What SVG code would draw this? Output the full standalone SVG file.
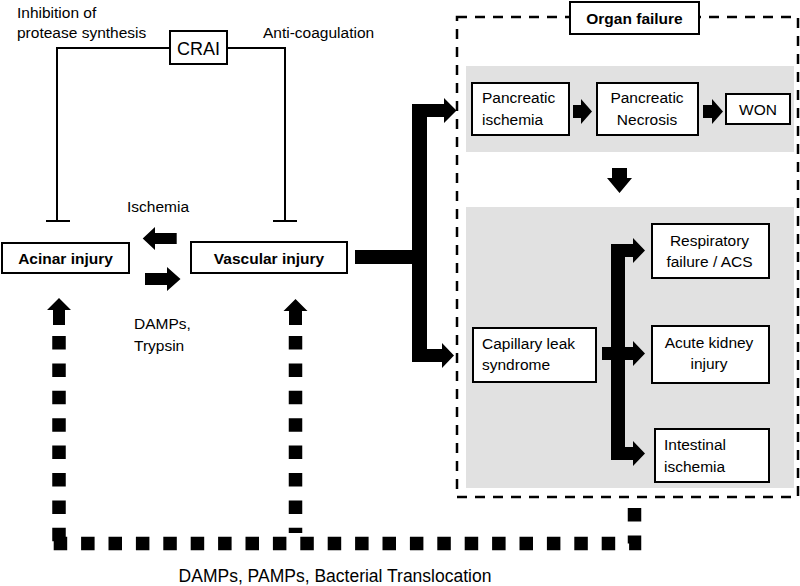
<svg xmlns="http://www.w3.org/2000/svg" width="800" height="586" viewBox="0 0 800 586">
<style>
text{font-family:"Liberation Sans",Arial,sans-serif;font-size:15.5px;fill:#000}
.b{font-weight:bold}
.c{text-anchor:middle}
.box{fill:#fff;stroke:#000;stroke-width:2}
.panel{fill:#e1e1e1}
.thin{fill:none;stroke:#000;stroke-width:2}
.arr{fill:#000}
.dots{fill:none;stroke:#000;stroke-width:13.5;stroke-dasharray:13.5 13.9}
</style>
<rect width="800" height="586" fill="#fff"/>

<g id="organ-failure">
<rect x="457" y="17" width="341" height="480" fill="none" stroke="#000" stroke-width="2.5" stroke-dasharray="10 8"/>
<rect class="panel" x="466" y="66" width="328" height="86"/>
<rect class="panel" x="466" y="207" width="328" height="281"/>
<rect class="box" x="570" y="2" width="129" height="32"/>
<text class="b c" x="634.5" y="24">Organ failure</text>
</g>

<g id="crai">
<rect class="box" x="170" y="31" width="57" height="33"/>
<text class="c" x="198.5" y="55" style="font-size:18px">CRAI</text>
</g>

<g id="acinar-injury">
<rect class="box" x="2" y="243" width="127" height="30"/>
<text class="b c" x="65.5" y="264">Acinar injury</text>
</g>

<g id="vascular-injury">
<rect class="box" x="191" y="242" width="156" height="31"/>
<text class="b c" x="269" y="264">Vascular injury</text>
</g>

<g id="pancreatic-ischemia">
<rect class="box" x="472" y="83" width="97" height="52"/>
<text x="482" y="103">Pancreatic</text>
<text x="482" y="125">ischemia</text>
</g>

<g id="pancreatic-necrosis">
<rect class="box" x="597" y="83" width="101" height="52"/>
<text class="c" x="647" y="103">Pancreatic</text>
<text class="c" x="647" y="125">Necrosis</text>
</g>

<g id="won">
<rect class="box" x="726" y="94" width="64" height="30"/>
<text class="c" x="758" y="115">WON</text>
</g>

<g id="capillary-leak">
<rect class="box" x="473" y="328" width="123" height="54"/>
<text x="482" y="349">Capillary leak</text>
<text x="482" y="370">syndrome</text>
</g>

<g id="respiratory-failure">
<rect class="box" x="652" y="224" width="117" height="54"/>
<text class="c" x="709.5" y="246">Respiratory</text>
<text class="c" x="709.5" y="267">failure / ACS</text>
</g>

<g id="acute-kidney-injury">
<rect class="box" x="652" y="326" width="117" height="57"/>
<text class="c" x="709" y="348">Acute kidney</text>
<text class="c" x="709" y="369">injury</text>
</g>

<g id="intestinal-ischemia">
<rect class="box" x="655" y="429" width="114" height="53"/>
<text x="664" y="450">Intestinal</text>
<text x="664" y="472">ischemia</text>
</g>

<g id="connectors">
<path class="thin" d="M57 221V48H170M227 48H285V221M46 221H70M273 221H297"/>
<polygon class="arr" points="176.7,233 155,233 155,227 142.7,238.5 155,250 155,244 176.7,244"/>
<polygon class="arr" points="145,273 167,273 167,267 180.5,279 167,291 167,285 145,285"/>
<polygon class="arr" points="355,250 412,250 412,104 444,104 444,98 456.5,110.5 444,123 444,117 427,117 427,349 442,349 442,343 454,355.5 442,368 442,362 412,362 412,264 355,264"/>
<polygon class="arr" points="573,105 581,105 581,99 592,111.5 581,124 581,118 573,118"/>
<polygon class="arr" points="703,105 712,105 712,99 723,111.5 712,124 712,118 703,118"/>
<polygon class="arr" points="612,168 627,168 627,178 632,178 619.5,193 607,178 612,178"/>
<polygon class="arr" points="611,244 633,244 633,238 645,250.5 633,263 633,257 625,257 625,347 633,347 633,341 645,353.5 633,366 633,360 625,360 625,447 633,447 633,441 645,453.5 633,466 633,460 611,460 611,360 602,360 602,347 611,347"/>
<polygon class="arr" points="53,325 53,310 47,310 59,298 71,310 65,310 65,325"/>
<polygon class="arr" points="289,325 289,311 283.5,311 295.5,299 307.5,311 302,311 302,325"/>
<path class="dots" d="M634.5 508V543.5H52.5"/>
<path class="dots" d="M59 336V541.5"/>
<path class="dots" d="M295.5 336V533"/>
<text x="17" y="17.5">Inhibition of</text>
<text x="17" y="37.5">protease synthesis</text>
<text x="263" y="37.5">Anti-coagulation</text>
<text x="127" y="212">Ischemia</text>
<text x="134" y="329">DAMPs,</text>
<text x="134" y="351">Trypsin</text>
<text class="c" x="335" y="582" style="font-size:17.5px">DAMPs, PAMPs, Bacterial Translocation</text>
</g>
</svg>
